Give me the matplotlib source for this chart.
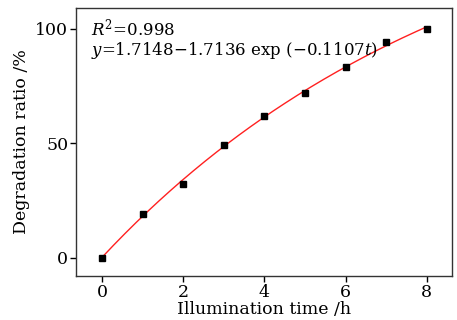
import numpy as np
import matplotlib
matplotlib.use("Agg")
import matplotlib.pyplot as plt

time_h = [0, 1, 2, 3, 4, 5, 6, 7, 8]
degradation = [0.0, 19.2, 32.1, 49.4, 61.9, 72.0, 83.3, 94.3, 99.7]
fit_a, fit_b, fit_k = 1.7148, 1.7136, 0.1107
x_ticks = [0, 2, 4, 6, 8]
y_ticks = [0, 50, 100]

plt.rcParams['font.family'] = ['DejaVu Serif']
plt.rcParams['mathtext.fontset'] = 'dejavuserif'

fig = plt.figure(figsize=(4.57, 3.2), dpi=100)
ax = fig.add_axes([76/457, 1-276/320, (452-76)/457, (276-8)/320])

t = np.linspace(0, 8, 200)
ax.plot(t, 100*(fit_a - fit_b*np.exp(-fit_k*t)), color='#ff2020', lw=1.0, zorder=2)
ax.plot(time_h, degradation, 's', color='black', ms=5, zorder=3)

ax.set_xlim(-0.64, 8.62)
ax.set_ylim(-8, 109)
ax.set_xticks(x_ticks)
ax.set_yticks(y_ticks)
ax.tick_params(direction='out', length=4, width=1, labelsize=12.5, pad=1.5, colors='black')
for s in ax.spines.values():
    s.set_linewidth(1.0)
    s.set_color('#333333')

ax.set_xlabel('Illumination time /h', fontsize=12.5, labelpad=0)
ax.set_ylabel('Degradation ratio /%', fontsize=12.5, labelpad=4)

ax.text(0.04, 0.965, r'$R^2$=0.998', transform=ax.transAxes, fontsize=12, va='top', ha='left')
ax.text(0.04, 0.88, r'$y$=1.7148$-$1.7136 exp ($-$0.1107$t$)', transform=ax.transAxes,
        fontsize=12, va='top', ha='left')

fig.savefig('out.png', dpi=100)
